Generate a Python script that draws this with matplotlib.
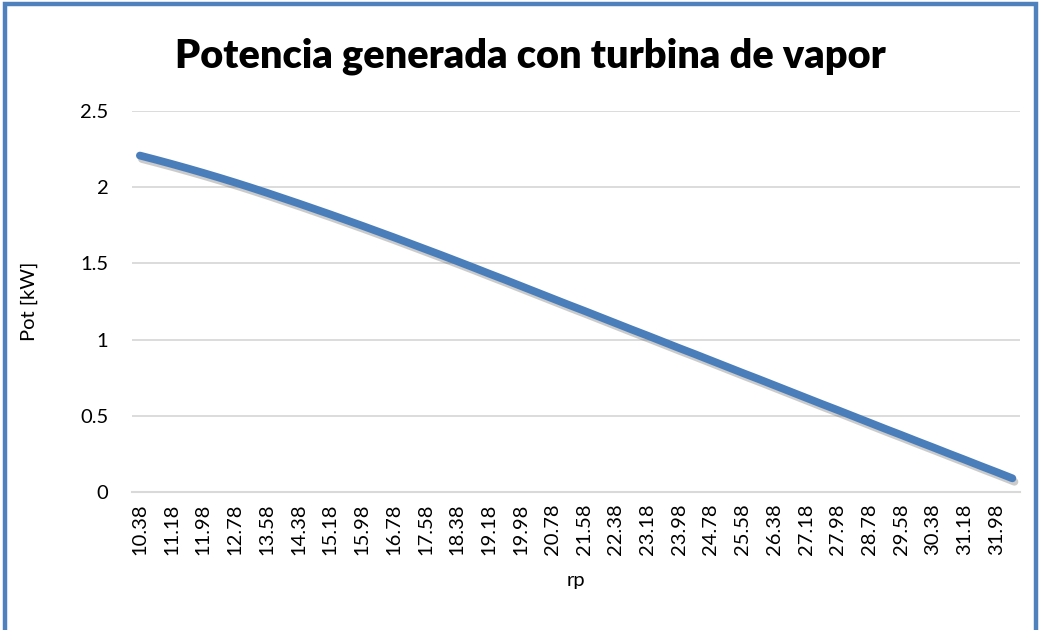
import matplotlib
matplotlib.use("Agg")
from matplotlib import pyplot as plt
from matplotlib import patheffects as pe
from matplotlib.patches import Rectangle

# relacion de presiones
rp = [10.38, 10.78, 11.18, 11.58, 11.98, 12.38, 12.78, 13.18, 13.58, 13.98,
      14.38, 14.78, 15.18, 15.58, 15.98, 16.38, 16.78, 17.18, 17.58, 17.98,
      18.38, 18.78, 19.18, 19.58, 19.98, 20.38, 20.78, 21.18, 21.58, 21.98,
      22.38, 22.78, 23.18, 23.58, 23.98, 24.38, 24.78, 25.18, 25.58, 25.98,
      26.38, 26.78, 27.18, 27.58, 27.98, 28.38, 28.78, 29.18, 29.58, 29.98,
      30.38, 30.78, 31.18, 31.58, 31.98, 32.38]

# potencia [kW]
pot = [2.207, 2.180, 2.152, 2.123, 2.093, 2.062, 2.030, 1.997, 1.963, 1.928,
       1.893, 1.857, 1.821, 1.784, 1.747, 1.709, 1.671, 1.632, 1.593, 1.554,
       1.514, 1.474, 1.433, 1.393, 1.352, 1.311, 1.270, 1.229, 1.189, 1.148,
       1.107, 1.066, 1.026, 0.985, 0.944, 0.904, 0.863, 0.822, 0.781, 0.741,
       0.700, 0.659, 0.618, 0.577, 0.537, 0.496, 0.455, 0.414, 0.374, 0.333,
       0.293, 0.252, 0.212, 0.171, 0.131, 0.090]

yticks = [0, 0.5, 1, 1.5, 2, 2.5]
ytick_labels = ["0", "0.5", "1", "1.5", "2", "2.5"]

plt.rcParams["font.family"] = ["Lato", "DejaVu Sans"]

fig = plt.figure(figsize=(10.39, 6.3), dpi=100)
ax = fig.add_axes([0.127, 0.219, 0.855, 0.605])

xs = list(range(len(rp)))
ax.plot(xs, pot, color="#4A7EBB", linewidth=5.6, solid_capstyle="round",
        path_effects=[pe.SimpleLineShadow(offset=(1.5, -2.5), shadow_color="#555555", alpha=0.3),
                      pe.Normal()], zorder=3)

# categorias entre marcas, como en la hoja de calculo
ax.set_xlim(-0.5, len(rp) - 0.5)
ax.set_ylim(0, 2.5)

ax.set_xticks(xs[::2])
ax.set_xticklabels(["%.2f" % v for v in rp[::2]], rotation=90, fontsize=14.5)
ax.set_yticks(yticks)
ax.set_yticklabels(ytick_labels, fontsize=14.5)
ax.tick_params(axis="x", length=0, pad=8)
ax.tick_params(axis="y", length=0, pad=17)

ax.grid(axis="y", color="#D9D9D9", linewidth=1.3)
ax.set_axisbelow(True)
for s in ["top", "right", "left"]:
    ax.spines[s].set_visible(False)
ax.spines["bottom"].set_color("#D9D9D9")
ax.spines["bottom"].set_linewidth(1.5)

ax.set_xlabel("rp", fontsize=14.5, labelpad=12)
ax.set_ylabel("Pot [kW]", fontsize=14.5, labelpad=30)

fig.text(0.51, 0.91, "Potencia generada con turbina de vapor", ha="center", va="center",
         fontsize=28.5, fontweight="heavy")

# marco azul del grafico
fig.patches.append(Rectangle((0.005, -0.02), 0.992, 1.013, transform=fig.transFigure,
                             fill=False, edgecolor="#4F81BD", linewidth=3.2))

fig.savefig("out.png", dpi=100)
